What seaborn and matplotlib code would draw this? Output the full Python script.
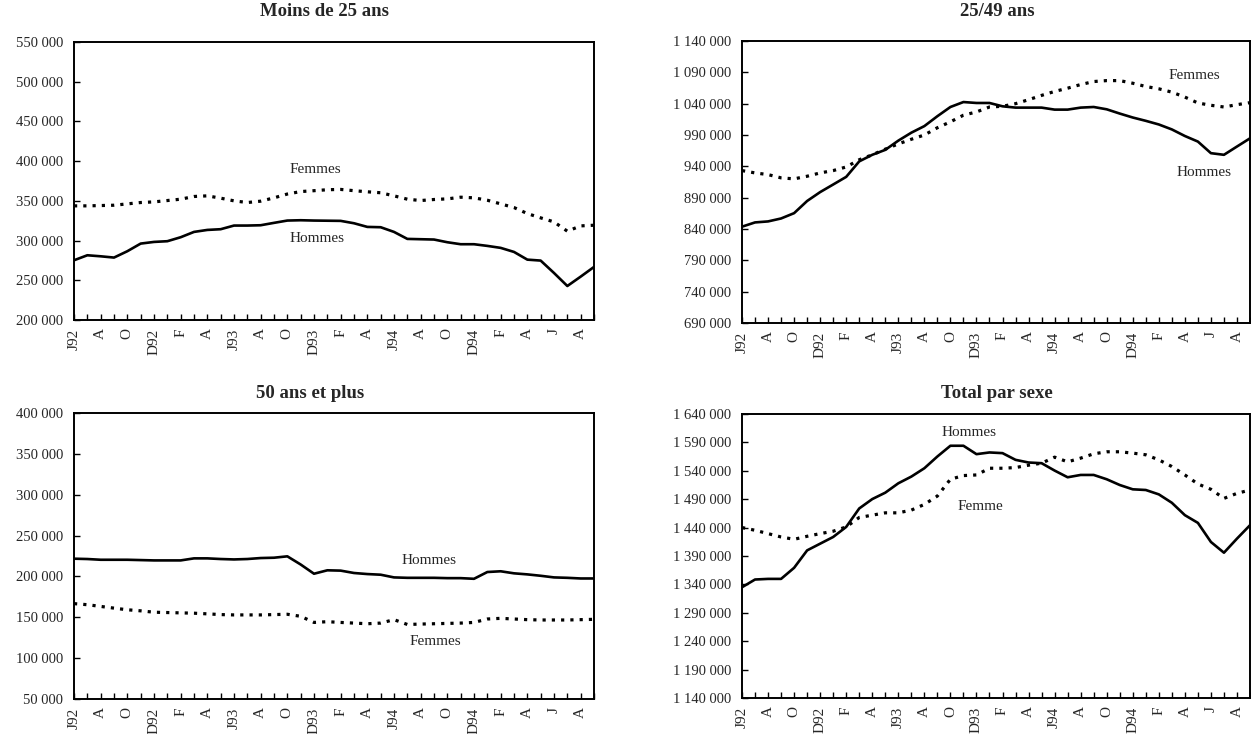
import numpy as np
import pandas as pd
import seaborn as sns
import matplotlib.pyplot as plt

# mois de juin 1992 a septembre 1995 (un point par mois)
mois_labels = ["J92", "A", "O", "D92", "F", "A", "J93", "A", "O", "D93",
               "F", "A", "J94", "A", "O", "D94", "F", "A", "J", "A"]
n_mois = 40

# valeurs en milliers
moins25_hommes = [275.2, 281.5, 280.2, 278.6, 286.6, 296.2, 298.3, 299.2, 304.2, 310.9,
                  313.4, 314.3, 318.9, 318.9, 319.3, 322.3, 325.2, 325.6, 325.2, 325.0,
                  324.8, 321.8, 317.2, 316.8, 310.9, 302.1, 301.7, 301.3, 297.9, 295.4,
                  295.4, 293.3, 290.8, 285.7, 276.0, 274.8, 259.2, 242.8, 254.6, 266.8]
moins25_femmes = [343.7, 343.7, 344.1, 344.5, 346.2, 347.9, 348.7, 350.4, 352.1, 355.5,
                  356.3, 353.4, 350.0, 347.9, 349.6, 353.8, 358.6, 361.7, 362.8, 364.0,
                  364.4, 362.8, 361.4, 360.2, 356.3, 352.1, 350.4, 351.7, 352.5, 354.6,
                  353.8, 350.8, 346.2, 341.6, 334.0, 328.6, 323.5, 311.8, 318.5, 319.3]

a2549_hommes = [843.7, 850.5, 852.1, 856.8, 865.3, 884.7, 898.9, 911.0, 923.2, 947.9,
                958.4, 966.3, 981.0, 993.7, 1004.2, 1020.0, 1034.7, 1042.6, 1041.1, 1041.1,
                1035.8, 1033.7, 1033.7, 1033.7, 1030.5, 1030.5, 1033.7, 1034.7, 1031.0, 1024.2,
                1017.9, 1012.6, 1006.8, 998.9, 988.4, 979.5, 961.0, 958.4, 971.6, 984.7]
a2549_femmes = [933.2, 929.5, 926.8, 921.6, 920.0, 924.2, 929.5, 933.2, 939.0, 950.5,
                958.4, 967.4, 975.8, 983.2, 990.0, 1001.6, 1011.0, 1021.6, 1026.8, 1034.7,
                1035.8, 1040.0, 1046.3, 1053.2, 1059.5, 1064.7, 1070.5, 1075.3, 1076.8, 1076.8,
                1072.6, 1067.4, 1063.7, 1058.4, 1050.5, 1041.1, 1037.4, 1034.7, 1038.4, 1041.6]

plus50_hommes = [221.7, 221.3, 220.4, 220.4, 220.4, 220.0, 219.6, 219.6, 219.6, 222.1,
                 222.1, 221.3, 220.8, 221.3, 222.5, 222.9, 224.6, 214.6, 203.3, 207.5,
                 207.1, 204.2, 202.9, 202.1, 198.8, 198.3, 198.3, 198.3, 197.9, 197.9,
                 197.1, 205.4, 206.3, 203.8, 202.5, 200.8, 198.8, 198.3, 197.5, 197.5]
plus50_femmes = [166.7, 165.4, 163.3, 161.2, 159.2, 157.9, 156.2, 155.8, 155.4, 155.0,
                 154.2, 153.3, 152.9, 152.9, 152.9, 153.3, 153.7, 151.2, 143.7, 144.6,
                 143.7, 142.9, 142.1, 142.9, 147.1, 141.2, 141.7, 142.1, 142.5, 142.9,
                 143.7, 147.9, 148.7, 147.9, 147.1, 146.7, 146.7, 146.7, 147.1, 147.5]

total_hommes = [1335.0, 1348.6, 1349.7, 1349.7, 1369.2, 1399.9, 1411.7, 1423.5, 1441.2, 1473.7,
                1490.2, 1501.5, 1518.0, 1529.8, 1544.5, 1565.2, 1584.1, 1584.1, 1569.3, 1572.3,
                1571.1, 1559.3, 1554.6, 1553.4, 1540.4, 1528.6, 1532.7, 1532.7, 1525.1, 1515.0,
                1507.4, 1506.2, 1498.5, 1483.7, 1461.9, 1448.3, 1414.7, 1395.8, 1420.6, 1444.2]
total_femmes = [1440.1, 1435.3, 1429.4, 1423.5, 1419.4, 1424.7, 1429.4, 1433.6, 1441.2, 1457.8,
                1461.9, 1466.0, 1466.0, 1470.8, 1480.8, 1495.6, 1525.1, 1531.6, 1532.7, 1544.5,
                1544.5, 1545.7, 1549.9, 1553.4, 1564.0, 1555.8, 1562.3, 1569.9, 1573.5, 1573.5,
                1571.1, 1568.2, 1559.3, 1547.5, 1532.7, 1516.8, 1507.4, 1491.4, 1500.3, 1506.2]

ticks_moins25 = list(range(200000, 550001, 50000))
ticks_2549 = list(range(690000, 1140001, 50000))
ticks_plus50 = list(range(50000, 400001, 50000))
ticks_total = list(range(1140000, 1640001, 50000))

sns.set_theme(style="white")
plt.rcParams['font.family'] = ['Liberation Serif', 'DejaVu Serif']

W, H = 1251, 734
fig = plt.figure(figsize=(W / 100, H / 100), dpi=100)

def px_axes(left, top, right, bottom):
    return fig.add_axes([left / W, 1 - bottom / H, (right - left) / W, (bottom - top) / H])

# (titre, hommes, femmes, yticks, box px, title pos, labels: (texte, x, y))
panels = [
    ("Moins de 25 ans", moins25_hommes, moins25_femmes, ticks_moins25,
     (74, 42, 594, 320), (325, 12),
     [("Femmes", 18.1, 389000), ("Hommes", 18.2, 302500)]),
    ("25/49 ans", a2549_hommes, a2549_femmes, ticks_2549,
     (742, 41, 1250, 323), (997, 12),
     [("Femmes", 34.7, 1084700), ("Hommes", 35.5, 930000)]),
    ("50 ans et plus", plus50_hommes, plus50_femmes, ticks_plus50,
     (74, 413, 594, 699), (310, 393),
     [("Hommes", 26.6, 220000), ("Femmes", 27.1, 120600)]),
    ("Total par sexe", total_hommes, total_femmes, ticks_total,
     (742, 414, 1250, 698), (997, 393),
     [("Hommes", 17.4, 1608000), ("Femme", 18.3, 1477400)]),
]

xlabels = [mois_labels[i // 2] if i % 2 == 0 else "" for i in range(n_mois)]

for titre, hommes, femmes, yticks, box, tpos, notes in panels:
    ax = px_axes(*box)
    df = pd.DataFrame({"mois": np.arange(n_mois),
                       "Hommes": np.array(hommes) * 1000,
                       "Femmes": np.array(femmes) * 1000})
    sns.lineplot(data=df, x="mois", y="Hommes", ax=ax, color="black", lw=1.9)
    sns.lineplot(data=df, x="mois", y="Femmes", ax=ax, color="black", lw=2.3,
                 linestyle=(0, (1, 1.9)))
    ax.set_xlim(0, n_mois - 1)
    ax.set_ylim(yticks[0], yticks[-1])
    ax.set_xticks(range(n_mois))
    ax.set_xticklabels(xlabels, rotation=90, fontsize=11)
    ax.set_yticks(yticks)
    ax.set_yticklabels([f"{v:,}".replace(",", " ") for v in yticks], fontsize=10.5)
    ax.tick_params(axis="both", direction="in", length=4, width=1, color="black",
                   bottom=True, left=True)
    ax.tick_params(axis="x", pad=6)
    ax.tick_params(axis="y", pad=8)
    ax.set_xlabel("")
    ax.set_ylabel("")
    for sp in ax.spines.values():
        sp.set_visible(True)
        sp.set_color("black")
        sp.set_linewidth(1.4)
    for txt, xv, yv in notes:
        ax.text(xv, yv, txt, ha="center", va="center", fontsize=11)
    fig.text(tpos[0] / W, 1 - tpos[1] / H, titre, ha="center", va="center",
             fontsize=13.5, fontweight="bold")

fig.savefig("out.png", dpi=100, facecolor="white")
